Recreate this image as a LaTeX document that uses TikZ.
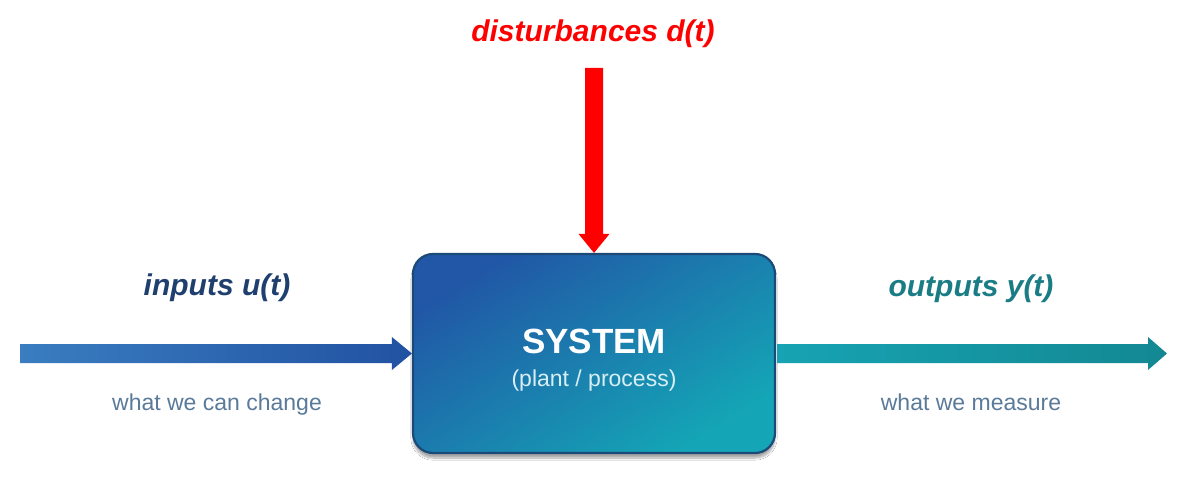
\documentclass[tikz,border=0pt]{standalone}
\usepackage{fontspec}
\setmainfont{Liberation Sans}
\usetikzlibrary{calc,shadows.blur}
\definecolor{boxA}{HTML}{2157A6}
\definecolor{boxB}{HTML}{14A6B6}
\definecolor{boxLine}{HTML}{1C4A78}
\definecolor{inA}{HTML}{3A7DC0}
\definecolor{inB}{HTML}{2152A2}
\definecolor{outA}{HTML}{17A3B3}
\definecolor{outB}{HTML}{138892}
\definecolor{navyText}{HTML}{1F3F6E}
\definecolor{tealText}{HTML}{1A7C85}
\definecolor{grayText}{HTML}{5A7A9A}
\definecolor{subText}{HTML}{D8EEF5}
\definecolor{distRed}{HTML}{FF0000}
\tikzset{
  sysbox/.style={draw=boxLine, line width=2.2pt, rounded corners=20pt,
    minimum width=362pt, minimum height=199pt, inner sep=0pt,
    left color=boxA, right color=boxB, shading angle=32,
    blur shadow={shadow xshift=0pt, shadow yshift=-5pt, shadow blur steps=10, shadow opacity=35}},
  biglabel/.style={font=\fontsize{30}{30}\selectfont\bfseries\itshape, anchor=base, inner sep=0pt},
  smalllabel/.style={font=\fontsize{23}{23}\selectfont, anchor=base, inner sep=0pt, text=grayText},
}
\begin{document}
\begin{tikzpicture}[x=1pt,y=-1pt]
\useasboundingbox (0,0) rectangle (1188,484);
\fill[white] (0,0) rectangle (1188,484);
% system box
\node[sysbox] (sys) at (594,353.5) {};
\node[font=\fontsize{35}{35}\selectfont\bfseries, text=white, anchor=base, inner sep=0pt] (systitle) at (594,353) {SYSTEM};
\node[font=\fontsize{23}{23}\selectfont, text=subText, anchor=base, inner sep=0pt] (syssub) at (594,386) {(plant / process)};
% free ends
\coordinate (instart) at (20,353.5);
\coordinate (outend) at (1167,353.5);
\coordinate (diststart) at (594,68);
% input arrow
\shade[left color=inA, right color=inB]
  ($(instart)+(0,-9.5)$) -- ($(sys.west)+(-20,-9.5)$) -- ($(sys.west)+(-20,-16.5)$)
  -- (sys.west) -- ($(sys.west)+(-20,16.5)$) -- ($(sys.west)+(-20,9.5)$)
  -- ($(instart)+(0,9.5)$) -- cycle;
% output arrow
\shade[left color=outA, right color=outB]
  ($(sys.east)+(1,-9.5)$) -- ($(outend)+(-19,-9.5)$) -- ($(outend)+(-19,-16.5)$)
  -- (outend) -- ($(outend)+(-19,16.5)$) -- ($(outend)+(-19,9.5)$)
  -- ($(sys.east)+(1,9.5)$) -- cycle;
% disturbance arrow
\fill[distRed]
  ($(diststart)+(-9,0)$) -- ($(sys.north)+(-9,-19)$) -- ($(sys.north)+(-15.5,-19)$)
  -- (sys.north) -- ($(sys.north)+(15.5,-19)$) -- ($(sys.north)+(9,-19)$)
  -- ($(diststart)+(9,0)$) -- cycle;
% labels
\node[biglabel, text=distRed] (distlabel) at (593,42) {disturbances d(t)};
\node[biglabel, text=navyText] (inlabel) at (217,295) {inputs u(t)};
\node[biglabel, text=tealText] (outlabel) at (971,296) {outputs y(t)};
\node[smalllabel] (innote) at (217,410) {what we can change};
\node[smalllabel] (outnote) at (971,410) {what we measure};
\end{tikzpicture}
\end{document}
